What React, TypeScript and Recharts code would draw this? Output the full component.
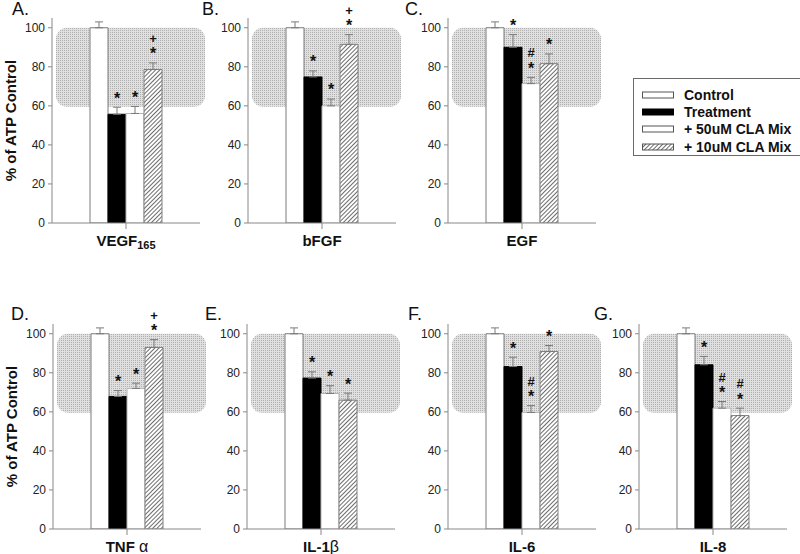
import React from "react";
import {
  BarChart,
  Bar,
  XAxis,
  YAxis,
  ErrorBar,
  LabelList,
  ReferenceArea,
  Legend,
} from "recharts";

const cytokines = ["VEGF165", "bFGF", "EGF", "TNF α", "IL-1β", "IL-6", "IL-8"];
const panelLetters = ["A.", "B.", "C.", "D.", "E.", "F.", "G."];
const seriesNames = ["Control", "Treatment", "+ 50uM CLA Mix", "+ 10uM CLA Mix"];

// % of ATP control
const controlValues = [100, 100, 100, 100, 100, 100, 100];
const controlErr = [3, 3, 3, 3, 3, 3, 3];
const treatmentValues = [55.7, 74.8, 90.0, 67.9, 77.3, 83.2, 84.1];
const treatmentErr = [3.6, 3.1, 6.5, 3.0, 3.2, 4.8, 4.3];
const cla50Values = [56.1, 60.0, 71.4, 72.0, 69.4, 59.7, 61.9];
const cla50Err = [3.6, 3.5, 3.2, 2.7, 4.0, 3.5, 3.4];
const cla10Values = [78.6, 91.5, 81.6, 93.0, 66.0, 90.9, 58.1];
const cla10Err = [3.4, 5.0, 5.0, 4.0, 3.6, 3.1, 3.8];

// significance marks, bottom to top
const controlSig = ["", "", "", "", "", "", ""];
const treatmentSig = ["*", "*", "*", "*", "*", "*", "*"];
const cla50Sig = ["*", "*", "*#", "*", "*", "*#", "*#"];
const cla10Sig = ["*+", "*+", "*", "*+", "*", "*", "*#"];

const yTicks = [0, 20, 40, 60, 80, 100];
const normalBand = [59.5, 100];

const FONT = '"Liberation Sans", Arial, sans-serif';

const seriesKeys = ["control", "treatment", "cla50", "cla10"];
const seriesStyle = [
  { fill: "#ffffff", stroke: "#7a7a7a" },
  { fill: "#000000", stroke: "#000000" },
  { fill: "#ffffff", stroke: "#b4b4b4" },
  { fill: "url(#hatch)", stroke: "#808080" },
];

// page placement of each panel: x of the y axis, top of the chart box
const layout = [
  { plotX: 52, top: 0, letterX: 12, letterTop: 0 },
  { plotX: 248, top: 0, letterX: 202, letterTop: 0 },
  { plotX: 448, top: 0, letterX: 405, letterTop: 0 },
  { plotX: 53, top: 306, letterX: 11, letterTop: 305 },
  { plotX: 247, top: 306, letterX: 205, letterTop: 305 },
  { plotX: 448, top: 306, letterX: 408, letterTop: 305 },
  { plotX: 639, top: 306, letterX: 594, letterTop: 305 },
];

function rowFor(i: number) {
  return {
    name: cytokines[i],
    control: controlValues[i],
    treatment: treatmentValues[i],
    cla50: cla50Values[i],
    cla10: cla10Values[i],
    controlErr: [0, controlErr[i]],
    treatmentErr: [0, treatmentErr[i]],
    cla50Err: [0, cla50Err[i]],
    cla10Err: [0, cla10Err[i]],
    controlSig: controlSig[i],
    treatmentSig: treatmentSig[i],
    cla50Sig: cla50Sig[i],
    cla10Sig: cla10Sig[i],
  };
}

function CategoryTick({ x, y, payload }: any) {
  const label = String(payload.value);
  const sub = label.match(/^([A-Z]+)(\d+)$/);
  const greek = label.match(/^(.*?)([αβ])$/);
  return (
    <text
      x={x}
      y={y + 14.5}
      textAnchor="middle"
      fontSize={15}
      fontWeight="bold"
      fill="#111"
      fontFamily={FONT}
    >
      {sub ? (
        <>
          <tspan>{sub[1]}</tspan>
          <tspan fontSize={11} dy={3}>
            {sub[2]}
          </tspan>
        </>
      ) : greek ? (
        <>
          <tspan>{greek[1]}</tspan>
          <tspan fontWeight="normal" fontSize={16}>
            {greek[2]}
          </tspan>
        </>
      ) : (
        label
      )}
    </text>
  );
}

function YTitle({ viewBox }: any) {
  const cx = 11;
  const cy = viewBox.y + viewBox.height / 2;
  return (
    <text
      x={cx}
      y={cy}
      transform={`rotate(-90 ${cx} ${cy})`}
      textAnchor="middle"
      dy={5.3}
      fontSize={15}
      fontWeight="bold"
      fill="#111"
      fontFamily={FONT}
    >
      % of ATP Control
    </text>
  );
}

const Band = (p: any) => (
  <rect
    x={p.x + 4}
    y={p.y}
    width={p.width + 1}
    height={p.height}
    rx={11}
    ry={11}
    fill="url(#dots)"
  />
);

const sigLabel = (value: number, err: number) => (p: any) => {
  const marks = String(p.value ?? "");
  if (!marks) return null;
  const vb = p.viewBox && p.viewBox.width != null ? p.viewBox : p;
  const cx = Number(vb.x) + Number(vb.width) / 2;
  const pxPerUnit = Number(vb.height) / value;
  const errTop = Number(vb.y) - err * pxPerUnit;
  return (
    <g>
      {marks.split("").map((c, k) => {
        const fs = c === "*" ? 16 : 13;
        const center = errTop - 12.5 - 12 * k;
        const base = center + (c === "*" ? 0.56 : 0.35) * fs;
        return (
          <text
            key={k}
            x={cx}
            y={base}
            textAnchor="middle"
            fontSize={fs}
            fontWeight="bold"
            fill="#111"
            fontFamily={FONT}
          >
            {c}
          </text>
        );
      })}
    </g>
  );
};

function LegendBox({ payload }: any) {
  const entries = payload || [];
  // keep the series order of the figure
  const names = seriesNames.filter((n) => entries.some((e: any) => e.value === n));
  return (
    <div
      style={{
        boxSizing: "border-box",
        width: 170,
        height: 78,
        border: "1px solid #6a6a6a",
        background: "#fff",
        paddingTop: 7,
        paddingLeft: 8,
        fontFamily: FONT,
      }}
    >
      {names.map((name) => {
        const i = seriesNames.indexOf(name);
        return (
          <div
            key={name}
            style={{ display: "flex", alignItems: "center", height: 17.3 }}
          >
            <svg width={33} height={8} style={{ display: "block" }}>
              <rect
                x={0.5}
                y={1}
                width={31}
                height={6}
                fill={seriesStyle[i].fill}
                stroke={i === 1 ? "#000" : "#555"}
              />
            </svg>
            <span
              style={{
                marginLeft: 9,
                fontSize: 14,
                fontWeight: "bold",
                color: "#111",
                whiteSpace: "nowrap",
                lineHeight: "14px",
              }}
            >
              {name}
            </span>
          </div>
        );
      })}
    </div>
  );
}

function Panel({ index }: { index: number }) {
  const pos = layout[index];
  const row = rowFor(index);
  const withTitle = index === 0 || index === 3;
  const values = [row.control, row.treatment, row.cla50, row.cla10];
  const errs = [controlErr[index], treatmentErr[index], cla50Err[index], cla10Err[index]];
  return (
    <>
      <div
        style={{
          position: "absolute",
          left: pos.letterX,
          top: pos.letterTop,
          fontSize: 18,
          lineHeight: "18px",
          fontFamily: FONT,
          color: "#111",
        }}
      >
        {panelLetters[index]}
      </div>
      <div style={{ position: "absolute", left: pos.plotX - 52, top: pos.top }}>
        <BarChart
          width={212}
          height={250}
          data={[row]}
          margin={{ top: 18, right: 12, bottom: 3, left: 0 }}
          barSize={18}
          barGap={0}
        >
          <ReferenceArea
            y1={normalBand[0]}
            y2={normalBand[1]}
            shape={Band}
            ifOverflow="visible"
          />
          <XAxis
            dataKey="name"
            height={24}
            tick={<CategoryTick />}
            tickSize={6}
            tickLine={{ stroke: "#888" }}
            axisLine={{ stroke: "#888" }}
            interval={0}
          />
          <YAxis
            width={52}
            domain={[0, 105]}
            ticks={yTicks}
            allowDataOverflow
            interval={0}
            tickSize={4}
            tickMargin={3}
            tick={{ fontSize: 12, fill: "#222", fontFamily: FONT }}
            tickLine={{ stroke: "#888" }}
            axisLine={{ stroke: "#888" }}
            label={withTitle ? (p: any) => <YTitle {...p} /> : undefined}
          />
          {seriesKeys.map((key, s) => (
            <Bar
              key={key}
              dataKey={key}
              name={seriesNames[s]}
              fill={seriesStyle[s].fill}
              stroke={seriesStyle[s].stroke}
              strokeWidth={1}
              isAnimationActive={false}
            >
              <ErrorBar
                dataKey={`${key}Err`}
                direction="y"
                width={4}
                stroke="#7a7a7a"
                strokeWidth={1}
                isAnimationActive={false}
              />
              <LabelList
                dataKey={`${key}Sig`}
                content={sigLabel(values[s], errs[s])}
              />
            </Bar>
          ))}
          {index === 2 && (
            <Legend
              layout="vertical"
              align="center"
              verticalAlign="middle"
              content={<LegendBox />}
              wrapperStyle={{ left: 237, top: 78, width: 170, height: 78 }}
            />
          )}
        </BarChart>
      </div>
    </>
  );
}

export default function App() {
  return (
    <div
      style={{
        position: "absolute",
        left: 0,
        top: 0,
        width: 800,
        height: 554,
        overflow: "hidden",
        background: "#fff",
        fontFamily: FONT,
      }}
    >
      <svg width={0} height={0} style={{ position: "absolute" }}>
        <defs>
          <pattern
            id="hatch"
            width={3}
            height={3}
            patternUnits="userSpaceOnUse"
            patternTransform="rotate(45)"
          >
            <rect width={3} height={3} fill="#fff" />
            <line x1={0} y1={0} x2={0} y2={3} stroke="#3a3a3a" strokeWidth={1.5} />
          </pattern>
          <pattern id="dots" width={2} height={2} patternUnits="userSpaceOnUse">
            <rect width={2} height={2} fill="#e0e0e0" />
            <rect width={1} height={1} fill="#b0b0b0" />
          </pattern>
        </defs>
      </svg>
      {cytokines.map((_, i) => (
        <Panel key={i} index={i} />
      ))}
    </div>
  );
}
